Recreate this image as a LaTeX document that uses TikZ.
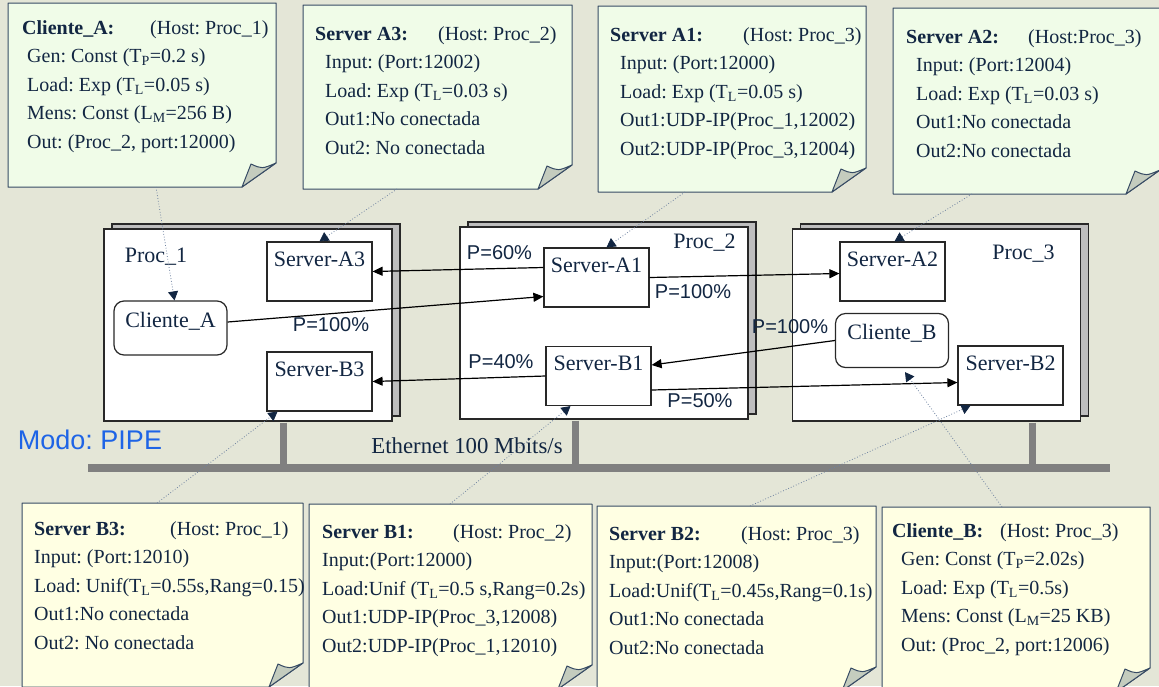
\documentclass[tikz,border=0pt]{standalone}
\usepackage{fontspec}
\setmainfont{Liberation Serif}
\setsansfont{Liberation Sans}
\usetikzlibrary{arrows.meta,shadows}
\frenchspacing

\definecolor{bgcol}{RGB}{228,230,215}
\definecolor{notegreen}{RGB}{240,252,232}
\definecolor{noteyellow}{RGB}{255,255,227}
\definecolor{flapcol}{RGB}{196,204,190}
\definecolor{noteline}{RGB}{55,75,100}
\definecolor{ink}{RGB}{18,38,66}
\definecolor{boxline}{RGB}{40,40,40}
\definecolor{procgray}{RGB}{190,190,190}
\definecolor{busgray}{RGB}{128,128,128}
\definecolor{hintline}{RGB}{110,130,160}
\definecolor{modoblue}{RGB}{30,100,230}

\newcommand{\notecard}[5]{%
  \draw [notebd, fill=#5] (#1,#2) -- (#3,#2) -- (#3,#4-24) -- (#3-34,#4) -- (#1,#4) -- cycle;
  \draw [notebd, fill=flapcol] (#3-34,#4) -- (#3-25,#4-23) .. controls (#3-14,#4-18) .. (#3,#4-24) -- cycle;
}

\tikzset{
  notebd/.style={draw=noteline, line width=1pt, line join=round},
  notetxt/.style={anchor=north west, inner sep=0pt, align=left, text=ink, font=\fontsize{20}{28.5}\selectfont},
  procbox/.style={draw=boxline, line width=1.3pt, fill=white, minimum width=288pt, minimum height=192pt, inner sep=0pt,
    copy shadow={shadow xshift=8pt, shadow yshift=5pt, fill=procgray, draw=boxline, line width=1.3pt}},
  proclbl/.style={text=ink, inner sep=0pt, font=\fontsize{22}{26}\selectfont},
  srvbox/.style={draw=boxline, line width=1.2pt, fill=white, minimum width=105pt, text height=20pt, text depth=31pt,
    inner ysep=4pt, inner xsep=0pt, text=ink, font=\fontsize{22}{26}\selectfont},
  clibox/.style={srvbox, rounded corners=10pt, minimum width=113pt, text height=22pt, text depth=24pt},
  flow/.style={-{Triangle[length=10pt,width=9pt]}, line width=1.2pt, draw=black},
  hint/.style={-{Triangle[length=9pt,width=10pt,color=ink]}, draw=hintline, dotted, line width=0.8pt},
  plbl/.style={text=ink, inner sep=0pt, font=\sffamily\fontsize{20}{22}\selectfont},
  stub/.style={draw=busgray, line width=7pt},
}

\begin{document}
\begin{tikzpicture}[x=1pt, y=-1pt]
    \clip (0,0) rectangle (1159,686);
    \fill [bgcol] (0,0) rectangle (1159,686);

    \notecard{8}{3}{276}{187}{notegreen}
    \notecard{303}{5}{572}{189}{notegreen}
    \notecard{598}{6}{866}{192}{notegreen}
    \notecard{893}{8}{1160}{194}{notegreen}
    \notecard{22}{503}{303}{687}{noteyellow}
    \notecard{309}{504}{592}{689}{noteyellow}
    \notecard{597}{506}{876}{691}{noteyellow}
    \notecard{882}{507}{1150}{692}{noteyellow}

    \node [notetxt] (tCA) at (22,20) {\makebox[128pt][l]{\textbf{Cliente\_A:}}(Host: Proc\_1)\\
      \hspace*{5pt}Gen: Const (T\textsubscript{P}=0.2 s)\\
      \hspace*{5pt}Load: Exp (T\textsubscript{L}=0.05 s)\\
      \hspace*{5pt}Mens: Const (L\textsubscript{M}=256 B)\\
      \hspace*{5pt}Out: (Proc\_2, port:12000)};
    \node [notetxt] (tA3) at (315,26) {\makebox[123pt][l]{\textbf{Server A3:}}(Host: Proc\_2)\\
      \hspace*{10pt}Input: (Port:12002)\\
      \hspace*{10pt}Load: Exp (T\textsubscript{L}=0.03 s)\\
      \hspace*{10pt}Out1:No conectada\\
      \hspace*{10pt}Out2: No conectada};
    \node [notetxt] (tA1) at (610,27) {\makebox[133pt][l]{\textbf{Server A1:}}(Host: Proc\_3)\\
      \hspace*{10pt}Input: (Port:12000)\\
      \hspace*{10pt}Load: Exp (T\textsubscript{L}=0.05 s)\\
      \hspace*{10pt}Out1:UDP-IP(Proc\_1,12002)\\
      \hspace*{10pt}Out2:UDP-IP(Proc\_3,12004)};
    \node [notetxt] (tA2) at (906,29) {\makebox[122pt][l]{\textbf{Server A2:}}(Host:Proc\_3)\\
      \hspace*{10pt}Input: (Port:12004)\\
      \hspace*{10pt}Load: Exp (T\textsubscript{L}=0.03 s)\\
      \hspace*{10pt}Out1:No conectada\\
      \hspace*{10pt}Out2:No conectada};
    \node [notetxt] (tB3) at (34,521) {\makebox[136pt][l]{\textbf{Server B3:}}(Host: Proc\_1)\\
      Input: (Port:12010)\\
      Load: Unif(T\textsubscript{L}=0.55s,Rang=0.15)\\
      Out1:No conectada\\
      Out2: No conectada};
    \node [notetxt] (tB1) at (322,524) {\makebox[131pt][l]{\textbf{Server B1:}}(Host: Proc\_2)\\
      Input:(Port:12000)\\
      Load:Unif (T\textsubscript{L}=0.5 s,Rang=0.2s)\\
      Out1:UDP-IP(Proc\_3,12008)\\
      Out2:UDP-IP(Proc\_1,12010)};
    \node [notetxt] (tB2) at (609,526) {\makebox[132pt][l]{\textbf{Server B2:}}(Host: Proc\_3)\\
      Input:(Port:12008)\\
      Load:Unif(T\textsubscript{L}=0.45s,Rang=0.1s)\\
      Out1:No conectada\\
      Out2:No conectada};
    \node [notetxt] (tCB) at (892,523) {\makebox[108pt][l]{\textbf{Cliente\_B:}}(Host: Proc\_3)\\
      \hspace*{9pt}Gen: Const (T\textsubscript{P}=2.02s)\\
      \hspace*{9pt}Load: Exp (T\textsubscript{L}=0.5s)\\
      \hspace*{9pt}Mens: Const (L\textsubscript{M}=25 KB)\\
      \hspace*{9pt}Out: (Proc\_2, port:12006)};

    \coordinate (busL) at (88,468);
    \coordinate (busR) at (1110,468);
    \draw [busgray, line width=8pt] (busL) -- (busR);

    \node [procbox] (p1) at (248,325) {};
    \node [procbox] (p2) at (604,323) {};
    \node [procbox] (p3) at (936.5,325) {};
    \draw [stub] (p1.south) ++(35,1) -- +(0,46);
    \draw [stub] (p2.south) ++(-29,1) -- +(0,48);
    \draw [stub] (p3.south) ++(95.5,1) -- +(0,46);

    \node [proclbl] (pl1) at (156,257) {Proc\_1};
    \node [proclbl] (pl2) at (704.5,243) {Proc\_2};
    \node [proclbl] (pl3) at (1023.5,254) {Proc\_3};

    \node [clibox] (cliA) at (170.5,328) {Cliente\_A};
    \node [srvbox] (sA3) at (319.5,271.5) {Server-A3};
    \node [srvbox] (sB3) at (319.5,381.5) {Server-B3};
    \node [srvbox] (sA1) at (596.5,277.5) {Server-A1};
    \node [srvbox] (sB1) at (598.5,376) {Server-B1};
    \node [srvbox] (sA2) at (892.5,271.5) {Server-A2};
    \node [clibox] (cliB) at (892,340.5) {Cliente\_B};
    \node [srvbox] (sB2) at (1010.5,375.5) {Server-B2};

    \draw [flow] ([yshift=6pt]cliA.east) -- ([yshift=-19pt]sA1.west);
    \draw [flow] ([yshift=10pt]sA1.west) -- (sA3.east);
    \draw [flow] (sA1.east) -- ([yshift=-2pt]sA2.west);
    \draw [flow] (cliB.west) -- ([yshift=11pt]sB1.east);
    \draw [flow] (sB1.west) -- (sB3.east);
    \draw [flow] ([yshift=-14pt]sB1.east) -- ([yshift=-7pt]sB2.west);

    \node [plbl] (pCA) at (331,325) {P=100\%};
    \node [plbl] (pA3) at (499.5,253) {P=60\%};
    \node [plbl] (pA2) at (693,292) {P=100\%};
    \node [plbl] (pCB) at (790,327) {P=100\%};
    \node [plbl] (pB3) at (501,362) {P=40\%};
    \node [plbl] (pB2) at (700,401) {P=50\%};

    \node [text=modoblue, inner sep=0pt, font=\sffamily\fontsize{27}{30}\selectfont] (modo) at (90,440) {Modo: PIPE};
    \node [text=ink, inner sep=0pt, font=\fontsize{22.8}{26}\selectfont] (eth) at (467,446) {Ethernet 100 Mbits/s};

    \coordinate (nCA) at (156,187);
    \coordinate (nA3) at (397,189);
    \coordinate (nA1) at (685,192);
    \coordinate (nA2) at (972,194);
    \coordinate (nB3) at (157,503);
    \coordinate (nB1) at (450,504);
    \coordinate (nB2) at (750,506);
    \coordinate (nCB) at (1002,507);
    \draw [hint] (nCA) -- ([xshift=4pt]cliA.north);
    \draw [hint] (nA3) -- (sA3.north);
    \draw [hint] (nA1) -- ([xshift=10pt]sA1.north);
    \draw [hint] (nA2) -- ([xshift=2pt]sA2.north);
    \draw [hint] (nB3) -- ([xshift=-42pt]sB3.south);
    \draw [hint] (nB1) -- ([xshift=-28pt]sB1.south);
    \draw [hint] (nB2) -- ([xshift=-40pt]sB2.south);
    \draw [hint] (nCB) -- ([xshift=13pt,yshift=-4pt]cliB.south);
\end{tikzpicture}
\end{document}
